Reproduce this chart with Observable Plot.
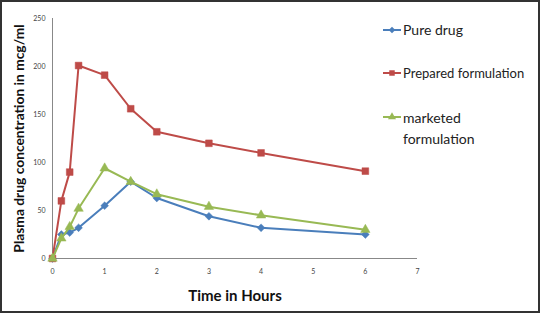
<!DOCTYPE html>
<html>
<head>
<meta charset="utf-8">
<script src="https://cdn.jsdelivr.net/npm/d3@7"></script>
<script src="https://cdn.jsdelivr.net/npm/@observablehq/plot@0.6"></script>
<style>
  html, body { margin: 0; padding: 0; background: #fff; }
  #wrap { position: relative; width: 540px; height: 313px; overflow: hidden; font-family: Lato, "Open Sans", sans-serif; }
  #border { position: absolute; left: 0; top: 0; width: 540px; height: 313px; box-sizing: border-box; border: 2px solid #333; pointer-events: none; }
  #legend { position: absolute; left: 383px; top: 0; }
  .item { position: absolute; display: flex; align-items: flex-start; white-space: nowrap; color: #222; }
  .item svg { flex: none; margin-right: 2px; }
  g[aria-label="y-axis label"] text, g[aria-label="x-axis label"] text { font-weight: bold; fill: #111; }
</style>
</head>
<body>
<div id="wrap"><div id="border"></div></div>
<script>
// Data
const time = [0, 0.17, 0.33, 0.5, 1, 1.5, 2, 3, 4, 6];
const pureDrug = [0, 25, 27, 32, 55, 80, 63, 44, 32, 25];
const preparedFormulation = [0, 60, 90, 201, 191, 156, 132, 120, 110, 91];
const marketedFormulation = [0, 21, 33, 52, 94, 80, 67, 54, 45, 30];
const xTicks = [0, 1, 2, 3, 4, 5, 6, 7];
const yTicks = [0, 50, 100, 150, 200, 250];
const seriesNames = ["Pure drug", "Prepared formulation", "marketed formulation"];
const colors = ["#4a7ebb", "#be4b48", "#98b954"];
const symbols = ["diamond2", "square", "triangle"];

const seriesValues = [pureDrug, preparedFormulation, marketedFormulation];
const rows = seriesValues.map(vals => time.map((t, i) => ({time: t, value: vals[i]})));

const marks = [
  Plot.ruleX([0], {stroke: "#888", strokeWidth: 1}),
  Plot.ruleY([0], {stroke: "#888", strokeWidth: 1}),
  Plot.axisX({ticks: xTicks, tickFormat: "d", tickSize: 0, tickPadding: 11, fontSize: 7, fill: "#444", label: null}),
  Plot.axisY({ticks: yTicks, tickFormat: "d", tickSize: 0, tickPadding: 7, fontSize: 7, fill: "#444", label: null}),
  Plot.axisY({ticks: [], label: "Plasma drug concentration in mcg/ml", labelAnchor: "center", labelOffset: 38, labelArrow: "none", fontSize: 13.8}),
  Plot.axisX({ticks: [], label: "Time in Hours", labelAnchor: "center", labelOffset: 42, labelArrow: "none", fontSize: 15})
];
rows.forEach((d, k) => {
  marks.push(Plot.line(d, {x: "time", y: "value", stroke: colors[k], strokeWidth: 2}));
  marks.push(Plot.dot(d, {x: "time", y: "value", fill: colors[k], stroke: colors[k], strokeWidth: 0.5, symbol: () => symbols[k], r: k === 1 ? 3.8 : 3.5}));
});

const chart = Plot.plot({
  width: 540,
  height: 313,
  marginLeft: 52,
  marginRight: 123,
  marginTop: 18,
  marginBottom: 55,
  style: {fontFamily: "Lato, 'Open Sans', sans-serif", background: "white", overflow: "visible"},
  x: {domain: [0, 7], axis: null},
  y: {domain: [0, 250], axis: null},
  symbol: {type: "identity"},
  marks
});
const wrap = document.getElementById("wrap");
wrap.insertBefore(chart, wrap.firstChild);

// Legend
const legend = document.createElement("div");
legend.id = "legend";
const legendTops = [30, 73, 117];
const legendSizes = [14, 13, 14];
seriesNames.forEach((name, k) => {
  const item = document.createElement("div");
  item.className = "item";
  item.style.top = (legendTops[k] - 10) + "px";
  item.style.fontSize = legendSizes[k] + "px";
  item.style.lineHeight = k === 2 ? "21px" : "20px";
  const sym = d3.symbol(k === 0 ? d3.symbolDiamond2 : k === 1 ? d3.symbolSquare : d3.symbolTriangle, k === 1 ? 30 : 28)();
  item.innerHTML = `<svg width="18" height="20" viewBox="-9 -10 18 20"><line x1="-9" x2="9" y1="0" y2="0" stroke="${colors[k]}" stroke-width="2"/><path d="${sym}" fill="${colors[k]}"/></svg>`;
  const span = document.createElement("span");
  if (k === 2) { span.innerHTML = "marketed<br>formulation"; }
  else span.textContent = name;
  item.appendChild(span);
  legend.appendChild(item);
});
wrap.appendChild(legend);
</script>
</body>
</html>
